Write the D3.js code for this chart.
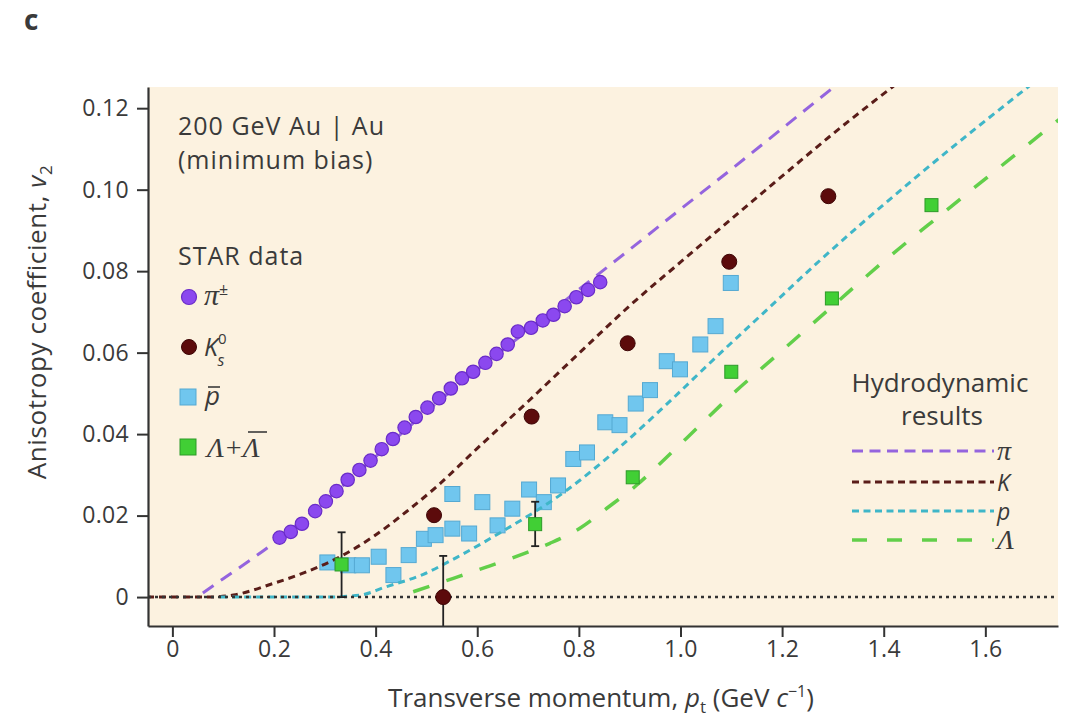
<!DOCTYPE html>
<html>
<head>
<meta charset="utf-8">
<script src="https://cdn.jsdelivr.net/npm/d3@7"></script>
<style>
  body { margin: 0; background: #fff; }
  text { font-family: "Open Sans", sans-serif; fill: #3a3a3a; }
  .greek { font-family: "Liberation Serif", serif; font-style: italic; }
</style>
</head>
<body>
<svg id="chart" width="1067" height="723"></svg>
<script>
// STAR data
const piPt = [0.211, 0.233, 0.255, 0.281, 0.302, 0.323, 0.345, 0.368, 0.390, 0.412, 0.434, 0.457, 0.479, 0.502, 0.525,
  0.548, 0.570, 0.592, 0.616, 0.638, 0.660, 0.680, 0.706, 0.729, 0.750, 0.772, 0.795, 0.818, 0.842]
const piV2 = [0.0146, 0.0160, 0.0180, 0.0211, 0.0235, 0.0260, 0.0288, 0.0312, 0.0335, 0.0363, 0.0388, 0.0416, 0.0442, 0.0465, 0.0488,
  0.0512, 0.0537, 0.0553, 0.0575, 0.0597, 0.0620, 0.0652, 0.0661, 0.0679, 0.0693, 0.0714, 0.0736, 0.0754, 0.0773]

const kPt = [0.515, 0.533, 0.707, 0.896, 1.096, 1.291]
const kV2 = [0.0201, 0.0, 0.0443, 0.0623, 0.0823, 0.0984]
const kErrLo = [null, -0.0101, null, null, null, null]
const kErrHi = [null, 0.0101, null, null, null, null]

const pbarPt = [0.305, 0.346, 0.373, 0.406, 0.435, 0.465, 0.495, 0.518, 0.551, 0.584, 0.551, 0.610, 0.640, 0.669,
  0.702, 0.731, 0.759, 0.789, 0.816, 0.852, 0.880, 0.912, 0.940, 0.973, 0.999, 1.039, 1.069, 1.099]
const pbarV2 = [0.0085, 0.0078, 0.0078, 0.0099, 0.0054, 0.0103, 0.0143, 0.0152, 0.0168, 0.0156, 0.0253, 0.0233, 0.0176, 0.0217,
  0.0264, 0.0233, 0.0274, 0.0339, 0.0355, 0.0429, 0.0422, 0.0475, 0.0508, 0.0579, 0.0559, 0.0620, 0.0665, 0.0771]

const lamPt = [0.333, 0.714, 0.906, 1.100, 1.298, 1.494]
const lamV2 = [0.0080, 0.0179, 0.0294, 0.0553, 0.0733, 0.0962]
const lamErrLo = [0.0, 0.0125, null, null, null, null]
const lamErrHi = [0.0159, 0.0234, null, null, null, null]

// hydrodynamic curves
const piHydroPt = [0.06, 0.10, 0.15, 0.20, 0.30, 0.40, 0.50, 0.60, 0.70, 0.80, 0.90, 1.00, 1.10, 1.20, 1.31]
const piHydroV2 = [0.001, 0.0045, 0.0088, 0.0133, 0.0235, 0.0345, 0.0455, 0.0558, 0.0655, 0.0755, 0.0853, 0.0952, 0.105, 0.115, 0.126]

const kHydroPt = [-0.05, 0.07, 0.12, 0.20, 0.264, 0.33, 0.395, 0.461, 0.52, 0.60, 0.70, 0.80, 0.90, 1.00, 1.10, 1.20, 1.30, 1.42]
const kHydroV2 = [0, 0, 0.0005, 0.0034, 0.0062, 0.0099, 0.0148, 0.0210, 0.0271, 0.0365, 0.0480, 0.0598, 0.0715, 0.0822, 0.0928, 0.1033, 0.1137, 0.1255]

const pHydroPt = [0.094, 0.30, 0.37, 0.42, 0.494, 0.559, 0.645, 0.776, 0.874, 0.97, 1.071, 1.17, 1.268, 1.465, 1.69]
const pHydroV2 = [0, 0, 0.0005, 0.0025, 0.0056, 0.0097, 0.0158, 0.0262, 0.0361, 0.0470, 0.0590, 0.0705, 0.0819, 0.1032, 0.1258]

const lamHydroPt = [0.474, 0.553, 0.619, 0.684, 0.743, 0.802, 0.855, 0.914, 0.96, 1.012, 1.097, 1.20, 1.30, 1.399, 1.524, 1.745]
const lamHydroV2 = [0.0013, 0.0046, 0.0074, 0.0103, 0.0132, 0.0169, 0.0218, 0.0275, 0.0328, 0.0390, 0.0492, 0.0605, 0.0715, 0.0823, 0.0950, 0.1172]

const yTicks = [0, 0.02, 0.04, 0.06, 0.08, 0.10, 0.12]
const yTickLabels = ['0', '0.02', '0.04', '0.06', '0.08', '0.10', '0.12']
const xTicks = [0, 0.2, 0.4, 0.6, 0.8, 1.0, 1.2, 1.4, 1.6]
const xTickLabels = ['0', '0.2', '0.4', '0.6', '0.8', '1.0', '1.2', '1.4', '1.6']

const plotLeft = 148, plotRight = 1058, plotTop = 87, plotBottom = 626

let svg = d3.select('#chart')

let x = d3.scaleLinear().domain([-0.048, 1.743]).range([plotLeft, plotRight])
let y = d3.scaleLinear().domain([-0.0071, 0.1252]).range([plotBottom, plotTop])

svg.append('defs').append('clipPath').attr('id', 'plot')
    .append('rect')
    .attr('x', plotLeft).attr('y', plotTop)
    .attr('width', plotRight - plotLeft).attr('height', plotBottom - plotTop)

// beige panel
svg.append('rect')
    .attr('x', plotLeft).attr('y', plotTop)
    .attr('width', plotRight - plotLeft).attr('height', plotBottom - plotTop)
    .attr('fill', '#fcf2e0')

let plot = svg.append('g').attr('clip-path', 'url(#plot)')

// antiproton squares go under the curves
plot.selectAll('.pbar')
    .data(d3.zip(pbarPt, pbarV2))
    .enter()
    .append('rect')
    .attr('x', (d) => x(d[0]) - 7.5)
    .attr('y', (d) => y(d[1]) - 7.5)
    .attr('width', 15).attr('height', 15)
    .attr('fill', '#70c6ee')
    .attr('stroke', '#55a9d2')
    .attr('stroke-width', 1)

let line = d3.line()
    .x((d) => x(d[0]))
    .y((d) => y(d[1]))
    .curve(d3.curveMonotoneX)

let curves = [
    { pt: kHydroPt, v2: kHydroV2, color: '#5a1d19', dash: '7,5', width: 3 },
    { pt: pHydroPt, v2: pHydroV2, color: '#3fb6c8', dash: '7,5', width: 3 },
    { pt: lamHydroPt, v2: lamHydroV2, color: '#62cf4a', dash: '17,18', width: 3.5 },
    { pt: piHydroPt, v2: piHydroV2, color: '#9464de', dash: '13,9', width: 3 }
]

curves.forEach((c) => {
    plot.append('path')
        .attr('d', line(d3.zip(c.pt, c.v2)))
        .attr('fill', 'none')
        .attr('stroke', c.color)
        .attr('stroke-width', c.width)
        .attr('stroke-dasharray', c.dash)
})

// zero line
plot.append('line')
    .attr('x1', plotLeft).attr('x2', plotRight)
    .attr('y1', y(0)).attr('y2', y(0))
    .attr('stroke', '#333')
    .attr('stroke-width', 2.5)
    .attr('stroke-dasharray', '3,4')

function errorBars(pts, lo, hi) {
    pts.forEach((p, i) => {
        if (lo[i] === null) return
        let g = plot.append('g').attr('stroke', '#222').attr('stroke-width', 1.8)
        g.append('line').attr('x1', x(p)).attr('x2', x(p)).attr('y1', y(lo[i])).attr('y2', y(hi[i]))
        g.append('line').attr('x1', x(p) - 4).attr('x2', x(p) + 4).attr('y1', y(lo[i])).attr('y2', y(lo[i]))
        g.append('line').attr('x1', x(p) - 4).attr('x2', x(p) + 4).attr('y1', y(hi[i])).attr('y2', y(hi[i]))
    })
}
errorBars(kPt, kErrLo, kErrHi)
errorBars(lamPt, lamErrLo, lamErrHi)

plot.selectAll('.kaon')
    .data(d3.zip(kPt, kV2))
    .enter()
    .append('circle')
    .attr('cx', (d) => x(d[0]))
    .attr('cy', (d) => y(d[1]))
    .attr('r', 7.5)
    .attr('fill', '#5c0b0b')
    .attr('stroke', '#3d0505')
    .attr('stroke-width', 1)

plot.selectAll('.pion')
    .data(d3.zip(piPt, piV2))
    .enter()
    .append('circle')
    .attr('cx', (d) => x(d[0]))
    .attr('cy', (d) => y(d[1]))
    .attr('r', 6.7)
    .attr('fill', '#8b48ef')
    .attr('stroke', '#6a2cc8')
    .attr('stroke-width', 1.2)

plot.selectAll('.lambda')
    .data(d3.zip(lamPt, lamV2))
    .enter()
    .append('rect')
    .attr('x', (d) => x(d[0]) - 6.5)
    .attr('y', (d) => y(d[1]) - 6.5)
    .attr('width', 13).attr('height', 13)
    .attr('fill', '#41cf35')
    .attr('stroke', '#2d9a28')
    .attr('stroke-width', 1)

// axes
let yAxis = svg.append('g')
    .attr('transform', 'translate(' + plotLeft + ',0)')
    .call(d3.axisLeft(y).tickValues(yTicks).tickFormat((d, i) => yTickLabels[i])
        .tickSize(11).tickSizeOuter(0).tickPadding(8))
let xAxis = svg.append('g')
    .attr('transform', 'translate(0,' + plotBottom + ')')
    .call(d3.axisBottom(x).tickValues(xTicks).tickFormat((d, i) => xTickLabels[i])
        .tickSize(11).tickSizeOuter(0).tickPadding(4))

;[xAxis, yAxis].forEach((a) => {
    a.select('.domain').attr('stroke', '#333').attr('stroke-width', 2.2)
    a.selectAll('.tick line').attr('stroke', '#333').attr('stroke-width', 2)
    a.selectAll('.tick text')
        .style('font-family', '"Open Sans", sans-serif')
        .style('font-size', '23px')
        .style('letter-spacing', '0.3px')
        .attr('fill', '#3a3a3a')
})

// axis titles
let yTitle = svg.append('text')
    .attr('transform', 'translate(46,322) rotate(-90)')
    .attr('text-anchor', 'middle')
    .style('font-size', '26px')
    .style('letter-spacing', '0.6px')
yTitle.append('tspan').text('Anisotropy coefficient, ')
yTitle.append('tspan').text('v').style('font-style', 'italic')
yTitle.append('tspan').text('2').attr('dy', 6).style('font-size', '17px')

let xTitle = svg.append('text')
    .attr('x', 601).attr('y', 707)
    .attr('text-anchor', 'middle')
    .style('font-size', '26px')
xTitle.append('tspan').text('Transverse momentum, ')
xTitle.append('tspan').text('p').style('font-style', 'italic')
xTitle.append('tspan').text('t').attr('dy', 6).style('font-size', '17px')
xTitle.append('tspan').text(' (GeV ').attr('dy', -6)
xTitle.append('tspan').text('c').style('font-style', 'italic')
xTitle.append('tspan').text('\u22121').attr('dy', -10).style('font-size', '16px')
xTitle.append('tspan').text(')').attr('dy', 10)

svg.append('text').attr('x', 24).attr('y', 30)
    .text('c').style('font-size', '28px').style('font-weight', 'bold').attr('fill', '#111')

// annotation
let note = [['200 GeV Au | Au', 135], ['(minimum bias)', 169], ['STAR data', 265]]
note.forEach((n) => {
    svg.append('text').attr('x', 178).attr('y', n[1]).text(n[0])
        .style('font-size', '25px').style('letter-spacing', '1px')
})

// left legend
svg.append('circle').attr('cx', 189).attr('cy', 297).attr('r', 7.5)
    .attr('fill', '#8b48ef').attr('stroke', '#6a2cc8').attr('stroke-width', 1.2)
let tPi = svg.append('text').attr('x', 204).attr('y', 305)
tPi.append('tspan').text('\u03c0').attr('class', 'greek').style('font-size', '30px')
tPi.append('tspan').text('\u00b1').attr('dy', -10).style('font-size', '16px')

svg.append('circle').attr('cx', 189).attr('cy', 347).attr('r', 7.5)
    .attr('fill', '#5c0b0b').attr('stroke', '#3d0505')
let tK = svg.append('text').attr('x', 204).attr('y', 356)
tK.append('tspan').text('K').style('font-size', '25px').style('font-style', 'italic')
tK.append('tspan').text('0').attr('dy', -12).style('font-size', '15px')
tK.append('tspan').text('s').attr('dx', -9).attr('dy', 22).style('font-size', '16px').style('font-style', 'italic')

svg.append('rect').attr('x', 180).attr('y', 389).attr('width', 16).attr('height', 16)
    .attr('fill', '#70c6ee').attr('stroke', '#55a9d2')
svg.append('text').attr('x', 205).attr('y', 405).text('p')
    .style('font-size', '26px').style('font-style', 'italic')
svg.append('line').attr('x1', 208).attr('x2', 220).attr('y1', 387).attr('y2', 387)
    .attr('stroke', '#3a3a3a').attr('stroke-width', 1.6)

svg.append('rect').attr('x', 180).attr('y', 439).attr('width', 16).attr('height', 16)
    .attr('fill', '#41cf35').attr('stroke', '#2d9a28')
svg.append('text').attr('x', 207).attr('y', 457).attr('class', 'greek')
    .text('\u039b+\u039b').style('font-size', '28px')
svg.append('line').attr('x1', 248).attr('x2', 267).attr('y1', 432).attr('y2', 432)
    .attr('stroke', '#3a3a3a').attr('stroke-width', 1.6)

// right legend
svg.append('text').attr('x', 940).attr('y', 392).attr('text-anchor', 'middle')
    .text('Hydrodynamic').style('font-size', '26px')
svg.append('text').attr('x', 942).attr('y', 425).attr('text-anchor', 'middle')
    .text('results').style('font-size', '26px')

let hydroLegend = [
    { label: '\u03c0', greek: true, color: '#9464de', dash: '11,6.5', width: 3, y: 451 },
    { label: 'K', greek: false, color: '#5a1d19', dash: '7,4.5', width: 3, y: 482 },
    { label: 'p', greek: false, color: '#3fb6c8', dash: '7,4.5', width: 3, y: 511 },
    { label: '\u039b', greek: true, color: '#62cf4a', dash: '15,20', width: 3.5, y: 540 }
]
hydroLegend.forEach((h) => {
    svg.append('line')
        .attr('x1', 852).attr('x2', 994)
        .attr('y1', h.y).attr('y2', h.y)
        .attr('stroke', h.color).attr('stroke-width', h.width)
        .attr('stroke-dasharray', h.dash)
    let t = svg.append('text').attr('x', 997).attr('y', h.y + 9).text(h.label)
        .style('font-style', 'italic').style('font-size', h.greek ? '28px' : '23px')
    if (h.greek) t.attr('class', 'greek')
})
</script>
</body>
</html>
